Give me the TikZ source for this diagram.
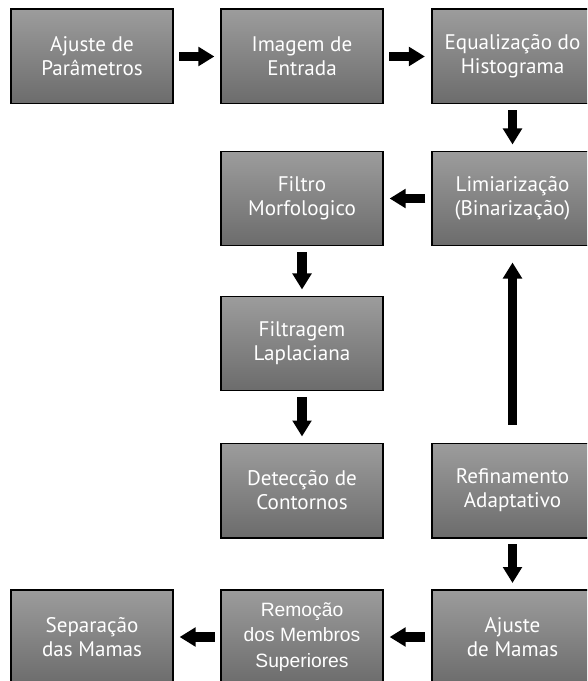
\documentclass[tikz,border=0pt]{standalone}
\usepackage{fontspec}
\setmainfont{PT Sans}
\newfontfamily\helvfont{Liberation Sans}
\usepackage{tikz}
\usetikzlibrary{positioning}
\usetikzlibrary{arrows.meta}
\definecolor{cinzaTopo}{HTML}{9C9C9C}
\definecolor{cinzaBase}{HTML}{6C6C6C}
\tikzset{
	etapa/.style={draw=black, line width=1.4pt, top color=cinzaTopo, bottom color=cinzaBase,
		minimum width=4.03cm, minimum height=2.35cm, inner sep=0pt, text=white, align=center,
		font=\fontsize{15}{17}\selectfont},
	seta/.style={line width=0.23cm, -{Triangle[width=0.46cm,length=0.4cm]},
		shorten <=0.14cm, shorten >=0.15cm}
}

\begin{document}
\begin{tikzpicture}[x=0.025cm, y=-0.025cm]
		\useasboundingbox (0,0) rectangle (587,681);
		\clip (0,0) rectangle (587,681);
		
		\node[etapa] (ajuste) at (92,56.5) {Ajuste de\\Parâmetros};
		\node[etapa] (imagem) at (302,56.5) {Imagem de\\Entrada};
		\node[etapa] (equaliza) at (512.5,56.5) {Equalização do\\Histograma};
		
		\node[etapa] (filtro) at (302,198.5) {Filtro\\Morfologico};
		\node[etapa] (limiar) at (512.5,198.5) {Limiarização\\(Binarização)};
		
		\node[etapa] (filtragem) at (302,343.5) {Filtragem\\Laplaciana};
		
		\node[etapa] (deteccao) at (302,490.5) {Detecção de\\Contornos};
		\node[etapa] (refina) at (512.5,490.5) {Refinamento\\Adaptativo};
		
		\node[etapa] (separa) at (92,637) {Separação\\das Mamas};
		\node[etapa, font=\helvfont\fontsize{13.7}{18}\selectfont] (remocao) at (302,637) {Remoção\\dos Membros\\Superiores};
		\node[etapa] (ajmamas) at (512.5,637) {Ajuste\\de Mamas};
		
		\draw[seta] (ajuste) -- (imagem);
		\draw[seta] (imagem) -- (equaliza);
		\draw[seta] (equaliza) -- (limiar);
		\draw[seta] (limiar) -- (filtro);
		\draw[seta] (filtro) -- (filtragem);
		\draw[seta] (filtragem) -- (deteccao);
		\draw[seta, shorten <=0.45cm, shorten >=0.4cm] (refina) -- (limiar);
		\draw[seta] (refina) -- (ajmamas);
		\draw[seta] (ajmamas) -- (remocao);
		\draw[seta] (remocao) -- (separa);
	\end{tikzpicture}
\end{document}
